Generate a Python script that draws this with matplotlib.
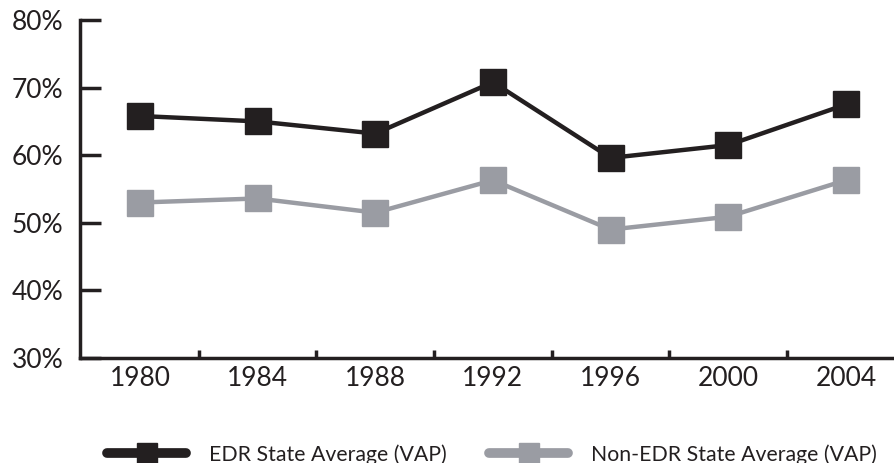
import matplotlib.pyplot as plt
from matplotlib.lines import Line2D

years = [1980, 1984, 1988, 1992, 1996, 2000, 2004]
edr = [65.8, 65.0, 63.2, 70.8, 59.6, 61.5, 67.5]
non_edr = [53.0, 53.6, 51.5, 56.3, 49.0, 50.9, 56.3]
y_ticks = [30, 40, 50, 60, 70, 80]
x_minor = [1982, 1986, 1990, 1994, 1998, 2002]

dark = "#231f20"
grey = "#9a9ca3"

plt.rcParams['font.family'] = ['Lato', 'DejaVu Sans']

fig = plt.figure(figsize=(8.95, 4.63), dpi=100)
ax = fig.add_axes([80/895, 105/463, 815/895, 338/463])

ax.plot(years, edr, color=dark, lw=3.2, marker='s', ms=19, mfc=dark, mec=dark, zorder=3)
ax.plot(years, non_edr, color=grey, lw=3.2, marker='s', ms=19, mfc=grey, mec=grey, zorder=3)

ax.set_xlim(1977.96, 2005.67)
ax.set_ylim(30, 80)
ax.set_yticks(y_ticks)
ax.set_yticklabels([f"{v}%" for v in y_ticks])
ax.set_xticks(years)
ax.set_xticklabels([str(y) for y in years])
ax.set_xticks(x_minor, minor=True)

for s in ['top', 'right']:
    ax.spines[s].set_visible(False)
for s in ['left', 'bottom']:
    ax.spines[s].set_linewidth(2.5)
    ax.spines[s].set_color(dark)

ax.tick_params(axis='y', direction='in', length=15, width=2.5, color=dark,
               labelsize=19, labelcolor=dark, pad=12)
ax.tick_params(axis='x', which='major', length=0, labelsize=19, labelcolor=dark, pad=6)
ax.tick_params(axis='x', which='minor', direction='in', length=6, width=2.5, color=dark)

handles = [
    Line2D([], [], color=dark, lw=7, marker='s', ms=15, solid_capstyle='round'),
    Line2D([], [], color=grey, lw=7, marker='s', ms=15, solid_capstyle='round'),
]
fig.legend(handles, ["EDR State Average (VAP)", "Non-EDR State Average (VAP)"],
           loc='lower center', bbox_to_anchor=(0.55, -0.045), ncol=2, frameon=False,
           fontsize=15.3, labelcolor=dark, handlelength=3.7, columnspacing=2.0,
           handletextpad=1.1)

fig.savefig("out.png", dpi=100)
